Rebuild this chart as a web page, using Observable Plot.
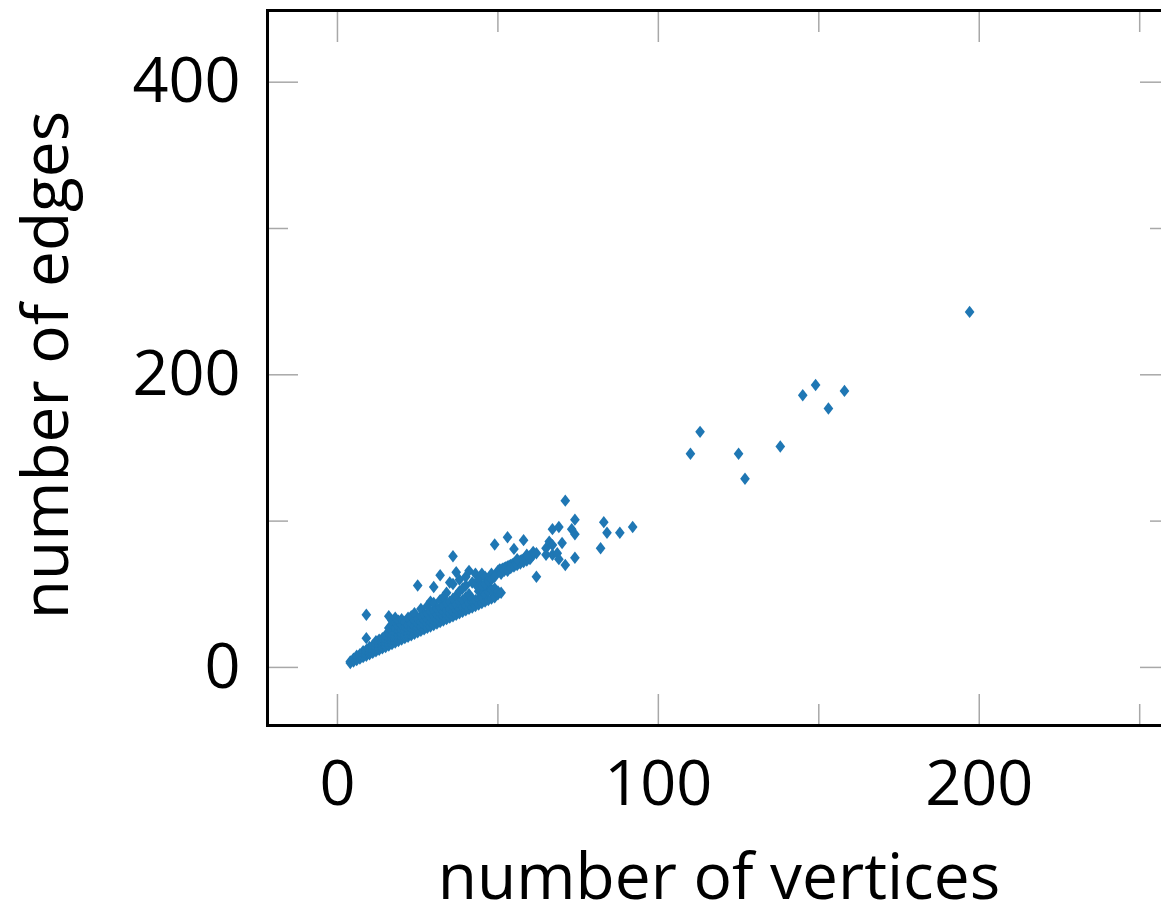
<!DOCTYPE html>
<html><head><meta charset="utf-8">
<script src="https://cdn.jsdelivr.net/npm/d3@7"></script>
<script src="https://cdn.jsdelivr.net/npm/@observablehq/plot@0.6"></script>
<style>html,body{margin:0;padding:0;background:#fff;overflow:hidden}</style>
</head><body><div id="chart"></div>
<script>
// number of vertices / number of edges per graph
const vertices = [
  4,4,5,5,5,6,6,6,6,7,7,7,7,8,8,8,8,8,9,9,9,9,9,9,9,10,10,10,10,10,11,11,11,11,11,12,12,12,12,12,12,
  13,13,13,13,13,14,14,14,14,14,15,15,15,15,15,16,16,16,16,16,16,16,17,17,17,17,17,17,17,18,18,18,18,18,18,18,19,19,19,19,19,19,20,20,20,20,20,20,
  21,21,21,21,21,22,22,22,22,22,23,23,23,23,23,24,24,24,24,24,25,25,25,25,25,26,26,26,26,26,27,27,27,27,28,28,28,28,28,29,29,29,29,29,30,30,30,30,30,30,
  31,31,31,31,32,32,32,32,32,32,33,33,33,33,33,34,34,34,34,34,35,35,35,35,35,36,36,36,36,36,36,37,37,37,37,37,38,38,38,38,38,39,39,39,39,40,40,40,40,40,41,41,41,41,42,42,42,42,
  43,43,43,43,44,44,44,44,45,45,45,45,46,46,46,46,47,47,47,48,48,48,49,49,49,50,50,50,50.5,51,51,51.5,52,52.5,53,53,53.5,54,54.5,55,55,55.5,56,56.5,57,57.5,58,58,58.5,59,59.5,60,60.5,61,62,62,
  44,45,46,47,48,49,51,52,53,54,55,56,57,58,59,60,56,59,61,
  65,66,67,67,69,70,65,67,68.5,69,71,71,74,73,74,74,83,92,88,84,82,
  110,113,125,127,138,145,149,153,158,197
];
const edges = [
  3,4,4,5,6,5,6,7,8,6,7,8,9,7,8,9,10,11,8,9,10,11,12,20,36,9,10,11,12,14,10,11,12,13,15,11,12,13,14,16,18,
  12,13,15,17,19,13,14,16,18,20,14,15,17,19,22,15,16,18,20,23,27,35,16,18,20,22,25,29,32,17,19,21,24,27,31,34,18,20,22,25,28,32,19,21,23,26,29,33,
  20,22,25,28,31,21,23,26,29,34,22,24,27,30,35,23,26,28,32,37,24,27,30,33,56,25,28,31,35,40,26,29,32,36,27,30,33,37,42,28,31,34,38,45,29,32,35,39,44,55,
  30,33,36,40,31,34,37,41,46,63,32,35,38,42,48,33,36,39,44,51,34,37,40,45,58,35,38,42,47,57,76,36,39,43,49,65,37,40,45,52,60,38,41,46,54,39,42,48,56,62,40,44,50,66,41,45,47,58,
  42,46,57,64,43,47,52,60,44,48,53,64,45,50,55,62,46,52,56,47,53,64,48,54,84,50,52,66,67,51,67,67.5,68,68.5,69,89,69.5,70,70.5,71,81,71.5,72,72.5,73,73.5,74,87,74.5,75,75.5,76,76.5,77,78,62,
  55,56,57,59,60,62,64,66,66,68,69,70,71,72,73,74,74,77,79,
  81.5,86,94.5,83.6,96,85,77,77,78,74,70,114,101,94.5,91,75,99.3,96,92,92,81.5,
  146,161,146,129,151,186,193,177,189,243
];
const xMajorTicks = [0, 100, 200];
const xMinorTicks = [50, 150, 250];
const yMajorTicks = [0, 200, 400];
const yMinorTicks = [100, 300];
const xLabel = "number of vertices";
const yLabel = "number of edges";

const data = vertices.map((v, i) => ({v, e: edges[i]}));

const narrowDiamond = {
  draw(ctx, size) {
    const r = Math.sqrt(size / Math.PI);
    const w = r * 0.78;
    ctx.moveTo(0, -r); ctx.lineTo(w, 0); ctx.lineTo(0, r); ctx.lineTo(-w, 0); ctx.closePath();
  }
};

const tickColor = "#a8a8a8";
const noText = () => "";

const chart = Plot.plot({
  width: 1161, height: 908,
  marginLeft: 267, marginRight: -9, marginTop: 10, marginBottom: 183,
  style: {fontFamily: "'Open Sans', sans-serif", background: "#fff", color: "#000"},
  x: {domain: [-21.8, 259.6]},
  y: {domain: [-39.7, 449]},
  marks: [
    Plot.dot(data, {x: "v", y: "e", symbol: narrowDiamond, r: 6.2, fill: "#1f77b4", stroke: "none"}),
    // inward tick marks on all four sides
    Plot.axisX(xMajorTicks, {anchor: "bottom", tickSize: 31, dy: -31, stroke: tickColor, strokeWidth: 1.5, tickFormat: noText, label: null}),
    Plot.axisX(xMinorTicks, {anchor: "bottom", tickSize: 21, dy: -21, stroke: tickColor, strokeWidth: 1.5, tickFormat: noText, label: null}),
    Plot.axisX(xMajorTicks, {anchor: "top", tickSize: 31, dy: 31, stroke: tickColor, strokeWidth: 1.5, tickFormat: noText, label: null}),
    Plot.axisX(xMinorTicks, {anchor: "top", tickSize: 21, dy: 21, stroke: tickColor, strokeWidth: 1.5, tickFormat: noText, label: null}),
    Plot.axisY(yMajorTicks, {anchor: "left", tickSize: 31, dx: 31, stroke: tickColor, strokeWidth: 1.5, tickFormat: noText, label: null}),
    Plot.axisY(yMinorTicks, {anchor: "left", tickSize: 21, dx: 21, stroke: tickColor, strokeWidth: 1.5, tickFormat: noText, label: null}),
    Plot.axisY(yMajorTicks, {anchor: "right", tickSize: 31, dx: -31, stroke: tickColor, strokeWidth: 1.5, tickFormat: noText, label: null}),
    Plot.axisY(yMinorTicks, {anchor: "right", tickSize: 21, dx: -21, stroke: tickColor, strokeWidth: 1.5, tickFormat: noText, label: null}),
    // tick labels
    Plot.axisX(xMajorTicks, {anchor: "bottom", tickSize: 0, tickPadding: 35, fontSize: 63, label: null}),
    Plot.axisY(yMajorTicks, {anchor: "left", tickSize: 0, tickPadding: 27, fontSize: 63, label: null}),
    Plot.frame({stroke: "#000", strokeWidth: 3}),
    // axis titles
    Plot.text([xLabel], {frameAnchor: "bottom", dy: 153, text: d => d, fontSize: 64, lineAnchor: "middle", textAnchor: "middle", fill: "#000"}),
    Plot.text([yLabel], {frameAnchor: "left", dx: -219.5, dy: -3, rotate: -90, text: d => d, fontSize: 64, lineAnchor: "middle", textAnchor: "middle", fill: "#000"})
  ]
});
document.getElementById("chart").appendChild(chart);
</script>
</body></html>
